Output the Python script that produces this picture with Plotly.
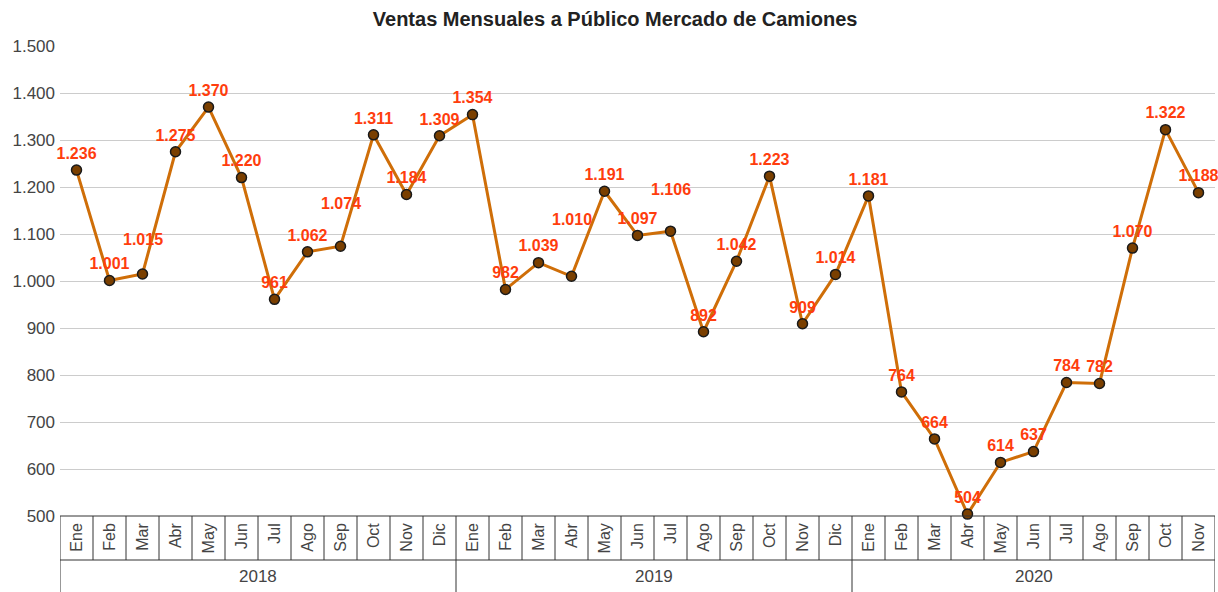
import plotly.graph_objects as go

months = ["Ene", "Feb", "Mar", "Abr", "May", "Jun", "Jul", "Ago", "Sep", "Oct", "Nov", "Dic"]
years = ["2018", "2019", "2020"]
sales_2018 = [1236, 1001, 1015, 1275, 1370, 1220, 961, 1062, 1074, 1311, 1184, 1309]
sales_2019 = [1354, 982, 1039, 1010, 1191, 1097, 1106, 892, 1042, 1223, 909, 1014]
sales_2020 = [1181, 764, 664, 504, 614, 637, 784, 782, 1070, 1322, 1188]

# extra upward offset (px) of labels that the original chart lifted to avoid collisions
label_lift = {2: 17, 8: 26, 15: 40, 18: 25}

series = [sales_2018, sales_2019, sales_2020]
labels, values = [], []
for y, s in zip(years, series):
    for i, v in enumerate(s):
        labels.append(months[i])
        values.append(v)

n = len(values)
xs = list(range(n))

def fmt(v):
    return f"{v:,}".replace(",", ".")

LABEL_FONT = dict(color="#FF3D0D", size=16, family="Liberation Sans, Arial", weight="bold")

fig = go.Figure()
fig.add_trace(go.Scatter(
    x=xs, y=values, mode="lines+markers+text",
    line=dict(color="#CF6E08", width=3),
    marker=dict(size=10, color="#7A3F00", line=dict(color="#1a1a1a", width=1.5)),
    text=["" if i in label_lift else fmt(v) for i, v in enumerate(values)], textposition="top center",
    textfont=LABEL_FONT,
    cliponaxis=False, showlegend=False, hoverinfo="skip",
))

annotations = []
for i, lift in label_lift.items():
    annotations.append(dict(x=xs[i], y=values[i], xref="x", yref="y", text="<b>" + fmt(values[i]) + "</b>",
                            showarrow=False, yanchor="middle", yshift=17 + lift,
                            font=dict(color="#FF3D0D", size=16, family="Liberation Sans, Arial")))

H_MONTH = 44 / 470
H_YEAR = 76 / 470
shapes = []
shapes.append(dict(type="line", xref="x", yref="paper", x0=-0.5, x1=n - 0.5, y0=0, y1=0,
                   line=dict(color="#333", width=1)))
shapes.append(dict(type="line", xref="x", yref="paper", x0=-0.5, x1=n - 0.5, y0=-H_MONTH, y1=-H_MONTH,
                   line=dict(color="#333", width=1)))
for i in range(n + 1):
    shapes.append(dict(type="line", xref="x", yref="paper", x0=i - 0.5, x1=i - 0.5, y0=0, y1=-H_MONTH,
                       line=dict(color="#333", width=1)))
start = 0
bounds = [-0.5]
for y, s in zip(years, series):
    end = start + len(s)
    bounds.append(end - 0.5)
    annotations.append(dict(x=(start + end - 1) / 2, y=-(H_MONTH + H_YEAR) / 2, xref="x", yref="paper",
                            yanchor="middle", text=y, showarrow=False, font=dict(size=17, color="#444")))
    start = end
for b in bounds:
    shapes.append(dict(type="line", xref="x", yref="paper", x0=b, x1=b, y0=-H_MONTH, y1=-H_YEAR - 0.01,
                       line=dict(color="#333", width=1)))

fig.update_layout(
    width=1218, height=592,
    margin=dict(l=60, r=3, t=46, b=76),
    paper_bgcolor="white", plot_bgcolor="white",
    font=dict(family="Liberation Sans, Arial", color="#444"),
    separators=",.",
    title=dict(text="<b>Ventas Mensuales a Público Mercado de Camiones</b>", x=0.505, xanchor="center",
               y=0.968, yanchor="middle", font=dict(size=20, color="#222")),
    xaxis=dict(range=[-0.5, n - 0.5], tickvals=xs, ticktext=labels, tickangle=-90,
               showgrid=False, zeroline=False, showline=False, ticks="",
               tickfont=dict(size=16, color="#444"), ticklabelstandoff=3),
    yaxis=dict(range=[500, 1500], dtick=100, tickformat=",d", showgrid=True, gridcolor="#cccccc",
               zeroline=False, showline=False, ticks="", ticklabelstandoff=4,
               tickfont=dict(size=17, color="#444")),
    shapes=shapes, annotations=annotations,
)

fig.write_html("out.html", config={"displayModeBar": False},
               post_script="document.body.style.margin='0';document.body.style.overflow='hidden';")
